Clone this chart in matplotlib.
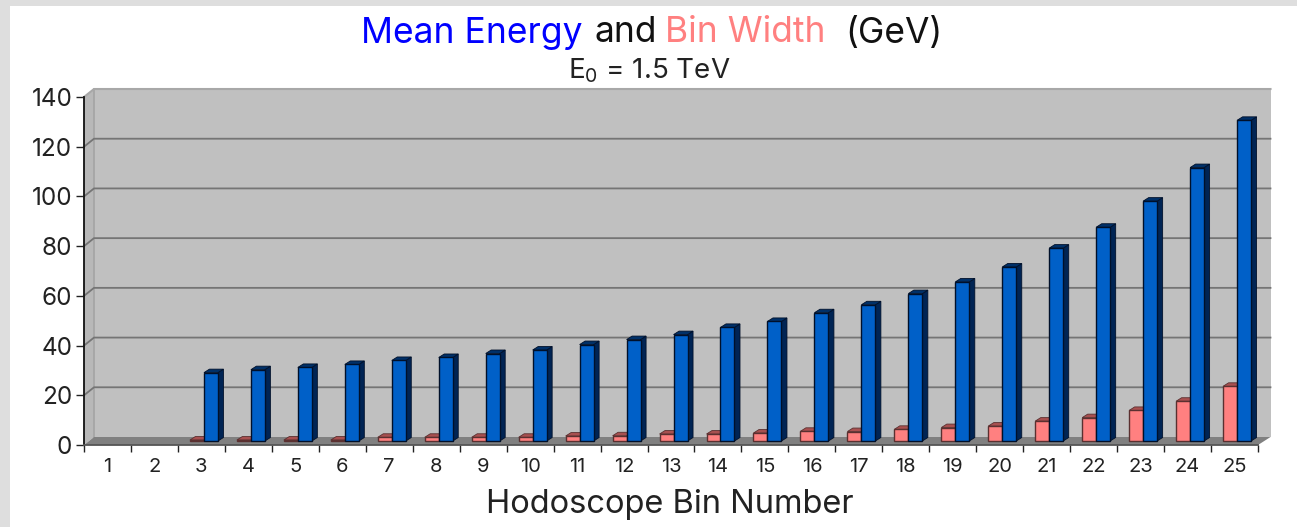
import matplotlib
matplotlib.use("Agg")
import matplotlib.pyplot as plt
from matplotlib.patches import Polygon, Rectangle
from matplotlib.transforms import Affine2D

bins = list(range(1, 26))
mean_energy = [0, 0, 27.5, 28.7, 29.6, 30.8, 32.4, 33.6, 35.2, 36.6, 38.8, 40.8, 42.8, 45.7, 48.1, 51.6,
               54.8, 59.3, 64, 70, 77.6, 86, 96.5, 110, 129]
bin_width = [0, 0, 0.4, 0.4, 0.4, 0.4, 1.5, 1.5, 1.5, 1.5, 2.0, 2.1, 2.8, 2.8, 3.2, 3.9,
             3.8, 4.7, 5.4, 6.0, 8.0, 9.4, 12.3, 16, 22]
y_ticks = [0, 20, 40, 60, 80, 100, 120, 140]

W, H = 1297, 527
FONT = ["Inter", "Liberation Sans", "DejaVu Sans"]
plt.rcParams["font.family"] = FONT
plt.rcParams["mathtext.default"] = "regular"
plt.rcParams["mathtext.fontset"] = "custom"
plt.rcParams["mathtext.rm"] = "Inter"

fig = plt.figure(figsize=(W / 100, H / 100), dpi=100, facecolor="white")
ax = fig.add_axes([84 / W, 1 - 445 / H, (1258 - 84) / W, (445 - 97) / H])
ax.set_xlim(0.5, 25.5)
ax.set_ylim(0, 140)
ax.patch.set_visible(False)

PXX = 25 / (1258 - 84)   # data units per pixel
PXY = 140 / (445 - 97)

# page strips
fig.add_artist(Rectangle((0, 0), 10 / W, 1, transform=fig.transFigure, color="#dedede", lw=0))
fig.add_artist(Rectangle((0, 1 - 6 / H), 1, 6 / H, transform=fig.transFigure, color="#dedede", lw=0))

# 3-D box
dxl, dxr, dy = 10 * PXX, 12.5 * PXX, 8 * PXY
x0, x1 = 0.5, 25.5
ax.add_patch(Polygon([(x0 + dxl, dy), (x1 + dxr, dy), (x1 + dxr, 140 + dy), (x0 + dxl, 140 + dy)],
                     fc="#c0c0c0", ec="none", clip_on=False, zorder=1))
ax.add_patch(Polygon([(x0, 0), (x0 + dxl, dy), (x0 + dxl, 140 + dy), (x0, 140)],
                     fc="#b8b8b8", ec="none", clip_on=False, zorder=1))
ax.plot([x0 + dxl, x0 + dxl], [dy, 140 + dy], color="#a4a4a4", lw=1.2, clip_on=False, zorder=2)
ax.plot([x0, x0 + dxl, x1 + dxr], [140, 140 + dy, 140 + dy], color="#a8a8a8", lw=1.5, clip_on=False, zorder=2)
for v in y_ticks[1:-1]:
    ax.plot([x0, x0 + dxl, x1 + dxr], [v, v + dy, v + dy], color="#757575", lw=1.3, clip_on=False, zorder=2)
ax.add_patch(Polygon([(x0, 0), (x1, 0), (x1 + dxr, dy), (x0 + dxl, dy)],
                     fc="#808080", ec="none", clip_on=False, zorder=3))

# bars sit mid-way across the floor, 4 px above its front edge
lift = ax.transData + Affine2D().translate(0, 4)
bw = 14 * PXX
ddx, ddy = 5.5 * PXX, 3.5 * PXY


def draw(vals, off, front, side, top, edge, z):
    xs = [b + off for b, v in zip(bins, vals) if v > 0]
    hs = [v for v in vals if v > 0]
    ax.bar(xs, hs, width=bw, align="edge", color=front, edgecolor=edge, linewidth=1.0,
           transform=lift, zorder=z + 1, clip_on=False)
    for x, h in zip(xs, hs):
        ax.add_patch(Polygon([(x + bw, 0), (x + bw + ddx, ddy), (x + bw + ddx, h + ddy), (x + bw, h)],
                             fc=side, ec=edge, lw=0.6, transform=lift, clip_on=False, zorder=z))
        ax.add_patch(Polygon([(x, h), (x + bw, h), (x + bw + ddx, h + ddy), (x + ddx, h + ddy)],
                             fc=top, ec=edge, lw=0.6, transform=lift, clip_on=False, zorder=z))


draw(bin_width, -0.244, "#ff8080", "#8a3c3c", "#a85050", "#5a3030", 4)
draw(mean_energy, 0.054, "#0060c8", "#002454", "#003068", "#00102a", 6)

# axes furniture
for s in ["top", "right"]:
    ax.spines[s].set_visible(False)
ax.spines["left"].set_color("#111111")
ax.spines["left"].set_linewidth(1.3)
ax.spines["left"].set_zorder(8)
ax.spines["bottom"].set_color("#555555")
ax.spines["bottom"].set_linewidth(1.3)
ax.spines["bottom"].set_zorder(8)
ax.set_yticks(y_ticks)
ax.set_yticklabels([str(v) for v in y_ticks], fontsize=17.5, color="#222222")
ax.tick_params(axis="y", length=5.5, width=1, color="#222222", pad=3)
ax.set_xticks([b - 0.5 for b in bins] + [25.5])
ax.set_xticklabels([])
ax.set_xticks(bins, minor=True)
ax.set_xticklabels([str(b) for b in bins], minor=True, fontsize=14.5, color="#222222")
ax.tick_params(axis="x", which="major", length=5, width=1, color="#222222")
ax.tick_params(axis="x", which="minor", length=0, pad=9)


def px_text(x, y, s, **kw):
    kw.setdefault("va", "center")
    fig.text(x / W, 1 - y / H, s, **kw)


for x, s, c in [(361, "Mean Energy", "#0000ff"), (594, "and", "#111111"),
                (665, "Bin Width", "#ff8080"), (845, "(GeV)", "#111111")]:
    px_text(x, 33, s, color=c, fontsize=25.5, ha="left")
px_text(649, 71, "E$_0$ = 1.5 TeV", color="#222222", fontsize=20, ha="center")
px_text(670, 504, "Hodoscope Bin Number", color="#222222", fontsize=23.5, ha="center")

fig.savefig("out.png", dpi=100, facecolor="white")
